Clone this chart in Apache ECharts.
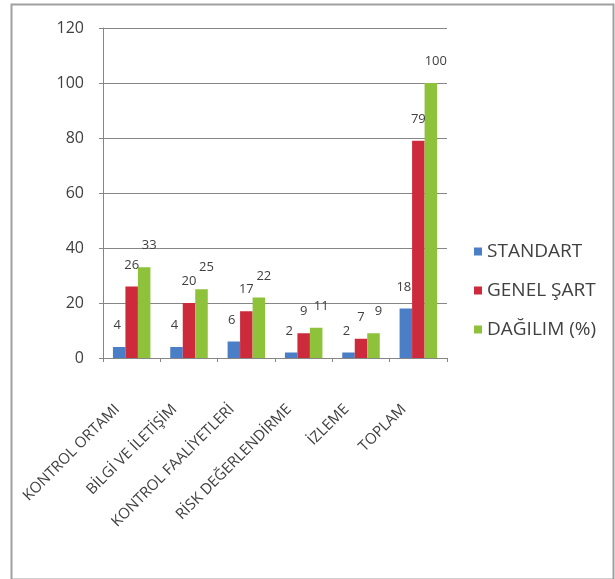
<!DOCTYPE html>
<html>
<head>
<meta charset="utf-8">
<script src="https://cdn.jsdelivr.net/npm/echarts@6/dist/echarts.min.js"></script>
<style>
html,body{margin:0;padding:0;background:#fff;}
#c{width:615px;height:579px;}
</style>
</head>
<body>
<div id="c"></div>
<script>
var categories = ['KONTROL ORTAMI', 'BİLGİ VE İLETİŞİM', 'KONTROL FAALİYETLERİ', 'RİSK DEĞERLENDİRME', 'İZLEME', 'TOPLAM'];
var standart = [4, 4, 6, 2, 2, 18];
var genelSart = [26, 20, 17, 9, 7, 79];
var dagilim = [33, 25, 22, 11, 9, 100];
var seriesNames = ['STANDART', 'GENEL ŞART', 'DAĞILIM (%)'];
var yTicks = [0, 20, 40, 60, 80, 100, 120];

var font = '"Open Sans", "DejaVu Sans", sans-serif';
var txt = '#404040';
function lbl(dx) {
  return {show: true, position: 'top', distance: 15, color: txt, fontSize: 13, fontFamily: font, offset: [dx, 0]};
}

var chart = echarts.init(document.getElementById('c'));
chart.setOption({
  animation: false,
  backgroundColor: '#fff',
  color: ['#4A7EC6', '#CD2A3C', '#8DC23A'],
  graphic: [{
    type: 'rect', left: 9, top: 2, shape: {width: 602, height: 575},
    style: {fill: 'none', stroke: '#a0a0a0', lineWidth: 2}, silent: true
  }],
  grid: {left: 103, right: 168, top: 28, bottom: 221, containLabel: false},
  legend: {
    orient: 'vertical', left: 469, top: 237, itemGap: 20,
    itemWidth: 8, itemHeight: 8, icon: 'rect',
    textStyle: {color: txt, fontSize: 19, fontFamily: font},
    data: seriesNames
  },
  xAxis: {
    type: 'category', data: categories,
    axisLine: {lineStyle: {color: '#868686'}},
    axisTick: {show: true, length: 4, lineStyle: {color: '#868686'}},
    axisLabel: {rotate: 45, align: 'right', verticalAlign: 'top', color: txt, fontSize: 15, fontFamily: font, interval: 0, margin: 21, padding: [2, 30, 0, 0]}
  },
  yAxis: {
    type: 'value', min: yTicks[0], max: yTicks[yTicks.length - 1], interval: 20,
    axisLine: {show: true, lineStyle: {color: '#868686'}},
    axisTick: {show: true, length: 4, lineStyle: {color: '#868686'}},
    axisLabel: {color: txt, fontSize: 16, fontFamily: font, margin: 19},
    splitLine: {lineStyle: {color: '#868686'}}
  },
  series: [
    {name: seriesNames[0], type: 'bar', data: standart, barWidth: 12.5, barGap: '0%', label: lbl(-2)},
    {name: seriesNames[1], type: 'bar', data: genelSart, barWidth: 12.5, barGap: '0%', label: lbl(0)},
    {name: seriesNames[2], type: 'bar', data: dagilim, barWidth: 12.5, barGap: '0%', label: lbl(5)}
  ]
});
</script>
</body>
</html>
